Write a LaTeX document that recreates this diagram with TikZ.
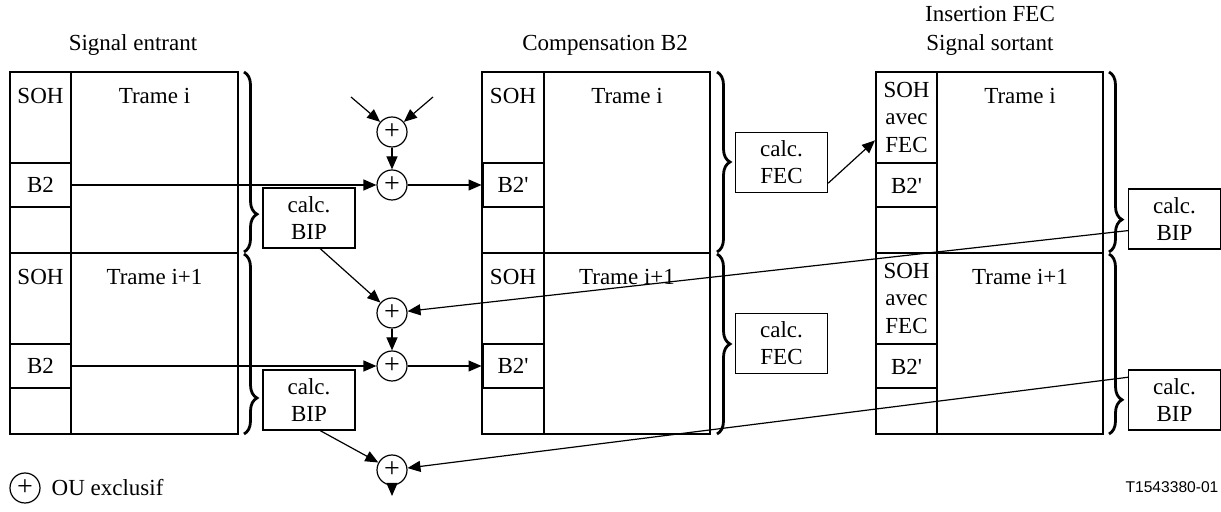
\documentclass[tikz,border=0pt]{standalone}
\usepackage{fontspec}
\setmainfont{Liberation Serif}
\newfontfamily\tagfont{Liberation Sans}
\usepackage{tikz}
\usetikzlibrary{positioning}
\usetikzlibrary{arrows.meta}
\usetikzlibrary{decorations.pathreplacing}

\begin{document}
\begin{tikzpicture}[x=0.5pt, y=-0.5pt, font=\fontsize{11.5}{13.6}\selectfont,
    frame/.style={draw, line width=0.6pt},
    divider/.style={draw, line width=1pt},
    cell/.style={draw, line width=1pt, inner sep=0pt, align=center, minimum width=30.5pt, minimum height=22pt},
    calcbox/.style={draw, line width=0.6pt, inner sep=0pt, align=center, minimum width=46pt, minimum height=30pt},
    xor/.style={draw, circle, line width=0.6pt, inner sep=0pt, minimum size=15pt, font=\fontsize{14}{14}\selectfont},
    link/.style={-{Triangle[length=6.5pt,width=5.5pt]}, line width=0.6pt},
    grp/.style={decorate, decoration={brace, amplitude=6.5pt, aspect=#1}, line width=1.4pt}]
    \useasboundingbox (0,0) rectangle (1221,512);

    % titles
    \node (tin)  at (133,45) {Signal entrant};
    \node (tmid) at (605,45) {Compensation B2};
    \node (tout) at (990,31) [align=center, font=\fontsize{11.5}{14.5}\selectfont] {Insertion FEC\\Signal sortant};

    % Signal entrant
    \draw[frame] (10,72) rectangle (238,434);
    \draw[divider] (71,72) -- (71,434);
    \draw[divider] (10,253) -- (238,253);
    \node (soha) at (40.5,96) {SOH};
    \node (trama) at (154.5,96) {Trame i};
    \node[cell] (b2a) at (40.5,185) {B2};
    \node (sohb) at (40.5,277) {SOH};
    \node (tramb) at (154.5,277) {Trame i+1};
    \node[cell] (b2b) at (40.5,366) {B2};

    % Compensation B2
    \draw[frame] (482,72) rectangle (710,434);
    \draw[divider] (544,72) -- (544,434);
    \draw[divider] (482,253) -- (710,253);
    \node (sohc) at (513,96) {SOH};
    \node (tramc) at (627,96) {Trame i};
    \node[cell] (b2c) at (513,185) {B2\textquotesingle};
    \node (sohd) at (513,277) {SOH};
    \node (tramd) at (627,277) {Trame i+1};
    \node[cell] (b2d) at (513,366) {B2\textquotesingle};

    % Insertion FEC
    \draw[frame] (876,72) rectangle (1103,434);
    \draw[divider] (937,72) -- (937,434);
    \draw[divider] (876,253) -- (1103,253);
    \node[cell, minimum height=45.5pt] (sohe) at (906.5,117.5) {SOH\\avec\\FEC};
    \node (trame) at (1020,96) {Trame i};
    \node[cell] (b2e) at (906.5,185.5) {B2\textquotesingle};
    \node[cell, minimum height=45.5pt] (sohf) at (906.5,298.5) {SOH\\avec\\FEC};
    \node (tramf) at (1020,277) {Trame i+1};
    \node[cell] (b2f) at (906.5,366.5) {B2\textquotesingle};

    % braces
    \draw[grp=0.79] (244,72) -- (244,252);
    \draw[grp=0.80] (244,254) -- (244,434);
    \draw[grp=0.5] (717,72) -- (717,252);
    \draw[grp=0.5] (717,254) -- (717,434);
    \draw[grp=0.82] (1109,72) -- (1109,252);
    \draw[grp=0.81] (1109,254) -- (1109,434);

    % xor gates
    \node[xor] (x1) at (392,132) {+};
    \node[xor] (x2) at (392,185) {+};
    \node[xor] (x3) at (392,313) {+};
    \node[xor] (x4) at (392,366) {+};
    \node[xor] (x5) at (392,470) {+};
    \coordinate (ina) at (351,97);
    \coordinate (inb) at (433,97);
    \coordinate (outx) at (392,496);

    % calc boxes
    \node[calcbox] (bipa) at (309,218) {calc.\\BIP};
    \node[calcbox] (bipb) at (309,400) {calc.\\BIP};
    \node[calcbox] (feca) at (781.5,162.5) {calc.\\FEC};
    \node[calcbox] (fecb) at (781.5,343.5) {calc.\\FEC};
    \node[calcbox] (bipc) at (1174.5,219) {calc.\\BIP};
    \node[calcbox] (bipd) at (1174.5,400) {calc.\\BIP};

    \draw[link] (ina) -- (x1);
    \draw[link] (inb) -- (x1);
    \draw[link] (x1) -- (x2);
    \draw[link] (b2a) -- (x2);
    \draw[link] (x2) -- (b2c);
    \draw[link] (bipa.-70) -- (x3);
    \draw[link] (bipc.194) -- (x3);
    \draw[link] (x3) -- (x4);
    \draw[link] (b2b) -- (x4);
    \draw[link] (x4) -- (b2d);
    \draw[link] (bipb.-70) -- (x5);
    \draw[link] (bipd.154) -- (x5);
    \draw[link] (x5) -- (outx);
    \draw[link] (feca.-24) -- (sohe.216);

    % legend
    \node[xor] (key) at (25,488) {+};
    \node[right=2pt of key] (keytxt) {OU exclusif};
    \node[font=\tagfont\fontsize{7.8}{9}\selectfont] (tag) at (1172,487) {T1543380-01};
\end{tikzpicture}
\end{document}
